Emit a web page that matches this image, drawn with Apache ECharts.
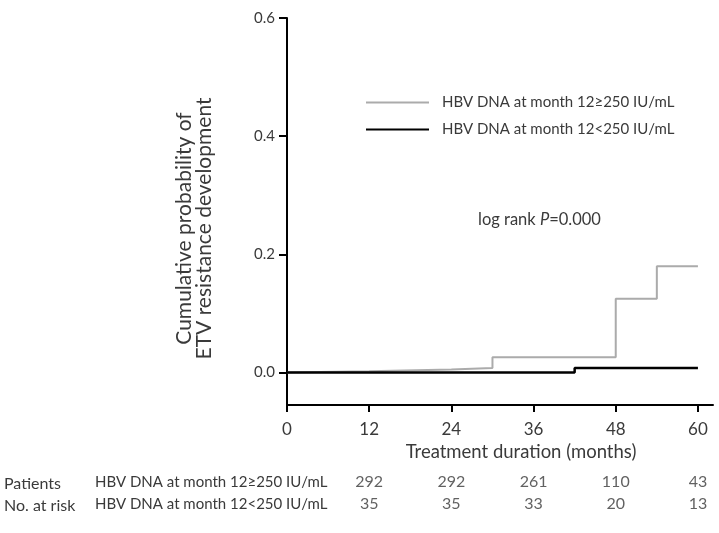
<!DOCTYPE html>
<html>
<head>
<meta charset="utf-8">
<script src="https://cdn.jsdelivr.net/npm/echarts@6/dist/echarts.min.js"></script>
<style>
html,body{margin:0;padding:0;background:#fff;}
#c{width:719px;height:533px;}
</style>
</head>
<body>
<div id="c"></div>
<script>
// ---- data ----
const seriesNames = ['HBV DNA at month 12\u2265250 IU/mL', 'HBV DNA at month 12<250 IU/mL'];
const highTime = [0, 12, 24, 30, 30, 48, 48, 54, 54, 60];
const highProb = [0, 0.002, 0.005, 0.0075, 0.026, 0.026, 0.125, 0.125, 0.18, 0.18];
const lowTime = [0, 42, 42, 60];
const lowProb = [0, 0, 0.0075, 0.0075];
const xTicks = [0, 12, 24, 36, 48, 60];
const yTicks = [0, 0.2, 0.4, 0.6];
const riskMonths = [12, 24, 36, 48, 60];
const riskHigh = [292, 292, 261, 110, 43];
const riskLow = [35, 35, 33, 20, 13];

const FONT = 'Lato';
const TXT = '#3a3a3a';

const pair = (xs, ys) => xs.map((x, i) => [x, ys[i]]);
const riskData = [];
riskMonths.forEach((m, i) => riskData.push([m, seriesNames[0], riskHigh[i]]));
riskMonths.forEach((m, i) => riskData.push([m, seriesNames[1], riskLow[i]]));

const chart = echarts.init(document.getElementById('c'), null, {renderer: 'canvas'});
chart.setOption({
  animation: false,
  backgroundColor: '#fff',
  textStyle: {fontFamily: FONT, color: TXT},
  title: {
    text: '{a|log rank }{i|P}{a|=0.000}',
    left: 478, top: 211, padding: 0,
    textStyle: {fontWeight: 'normal', rich: {
      a: {fontFamily: FONT, fontSize: 16.5, color: TXT, fontWeight: 'normal'},
      i: {fontFamily: FONT, fontSize: 16.5, color: TXT, fontStyle: 'italic', fontWeight: 'normal'}
    }}
  },
  legend: {
    orient: 'vertical', left: 366, top: 95, padding: 0,
    icon: 'rect',
    itemWidth: 63, itemHeight: 2, itemGap: 12,
    data: seriesNames,
    textStyle: {fontFamily: FONT, fontSize: 15, color: TXT, padding: [0, 0, 0, 8], lineHeight: 14}
  },
  graphic: [
    {type: 'text', left: 4, top: 476, style: {text: 'Patients', font: '16px ' + FONT, fill: TXT}},
    {type: 'text', left: 4, top: 498, style: {text: 'No. at risk', font: '16px ' + FONT, fill: TXT}}
  ],
  grid: [
    {left: 287, right: 6, top: 18, bottom: 128, containLabel: false},
    {left: 287, right: 6, top: 471, height: 44, containLabel: false}
  ],
  xAxis: [
    {
      type: 'value', gridIndex: 0, min: 0, max: 62.2,
      name: 'Treatment duration (months)', nameLocation: 'middle', nameGap: 38,
      nameTextStyle: {fontFamily: FONT, fontSize: 18.5, color: TXT, padding: [0, 0, 0, 42]},
      axisLine: {show: true, onZero: false, lineStyle: {color: '#000', width: 2}},
      axisTick: {show: true, length: 7, lineStyle: {color: '#000', width: 2}, customValues: xTicks},
      axisLabel: {fontFamily: FONT, fontSize: 17, color: TXT, margin: 16, customValues: xTicks},
      splitLine: {show: false}
    },
    {
      type: 'value', gridIndex: 1, min: 0, max: 62.2, show: false
    }
  ],
  yAxis: [
    {
      type: 'value', gridIndex: 0, min: -0.055, max: 0.6,
      name: 'Cumulative probability of\nETV resistance development',
      nameLocation: 'middle', nameRotate: 90, nameGap: 73,
      nameTextStyle: {fontFamily: FONT, fontSize: 21, color: TXT, lineHeight: 20, padding: [0, 34, 0, 0]},
      axisLine: {show: true, onZero: false, lineStyle: {color: '#000', width: 2}},
      axisTick: {show: true, length: 8, lineStyle: {color: '#000', width: 2}, customValues: yTicks},
      axisLabel: {fontFamily: FONT, fontSize: 15, color: TXT, margin: 12, customValues: yTicks,
        formatter: v => v.toFixed(1)},
      splitLine: {show: false}
    },
    {
      type: 'category', gridIndex: 1, inverse: true, data: seriesNames,
      axisLine: {show: false}, axisTick: {show: false},
      axisLabel: {fontFamily: FONT, fontSize: 15, color: TXT, align: 'left', margin: 192}
    }
  ],
  series: [
    {
      name: seriesNames[0], type: 'line', xAxisIndex: 0, yAxisIndex: 0,
      data: pair(highTime, highProb), symbol: 'none',
      lineStyle: {color: '#ababab', width: 2}, itemStyle: {color: '#ababab'}
    },
    {
      name: seriesNames[1], type: 'line', xAxisIndex: 0, yAxisIndex: 0,
      data: pair(lowTime, lowProb), symbol: 'none',
      lineStyle: {color: '#000', width: 2.5}, itemStyle: {color: '#000'}
    },
    {
      name: 'risk', type: 'scatter', xAxisIndex: 1, yAxisIndex: 1,
      data: riskData, symbolSize: 0, silent: true,
      label: {show: true, position: 'inside', fontFamily: FONT, fontSize: 16, color: TXT,
        formatter: p => String(p.value[2])}
    }
  ]
});
</script>
</body>
</html>
